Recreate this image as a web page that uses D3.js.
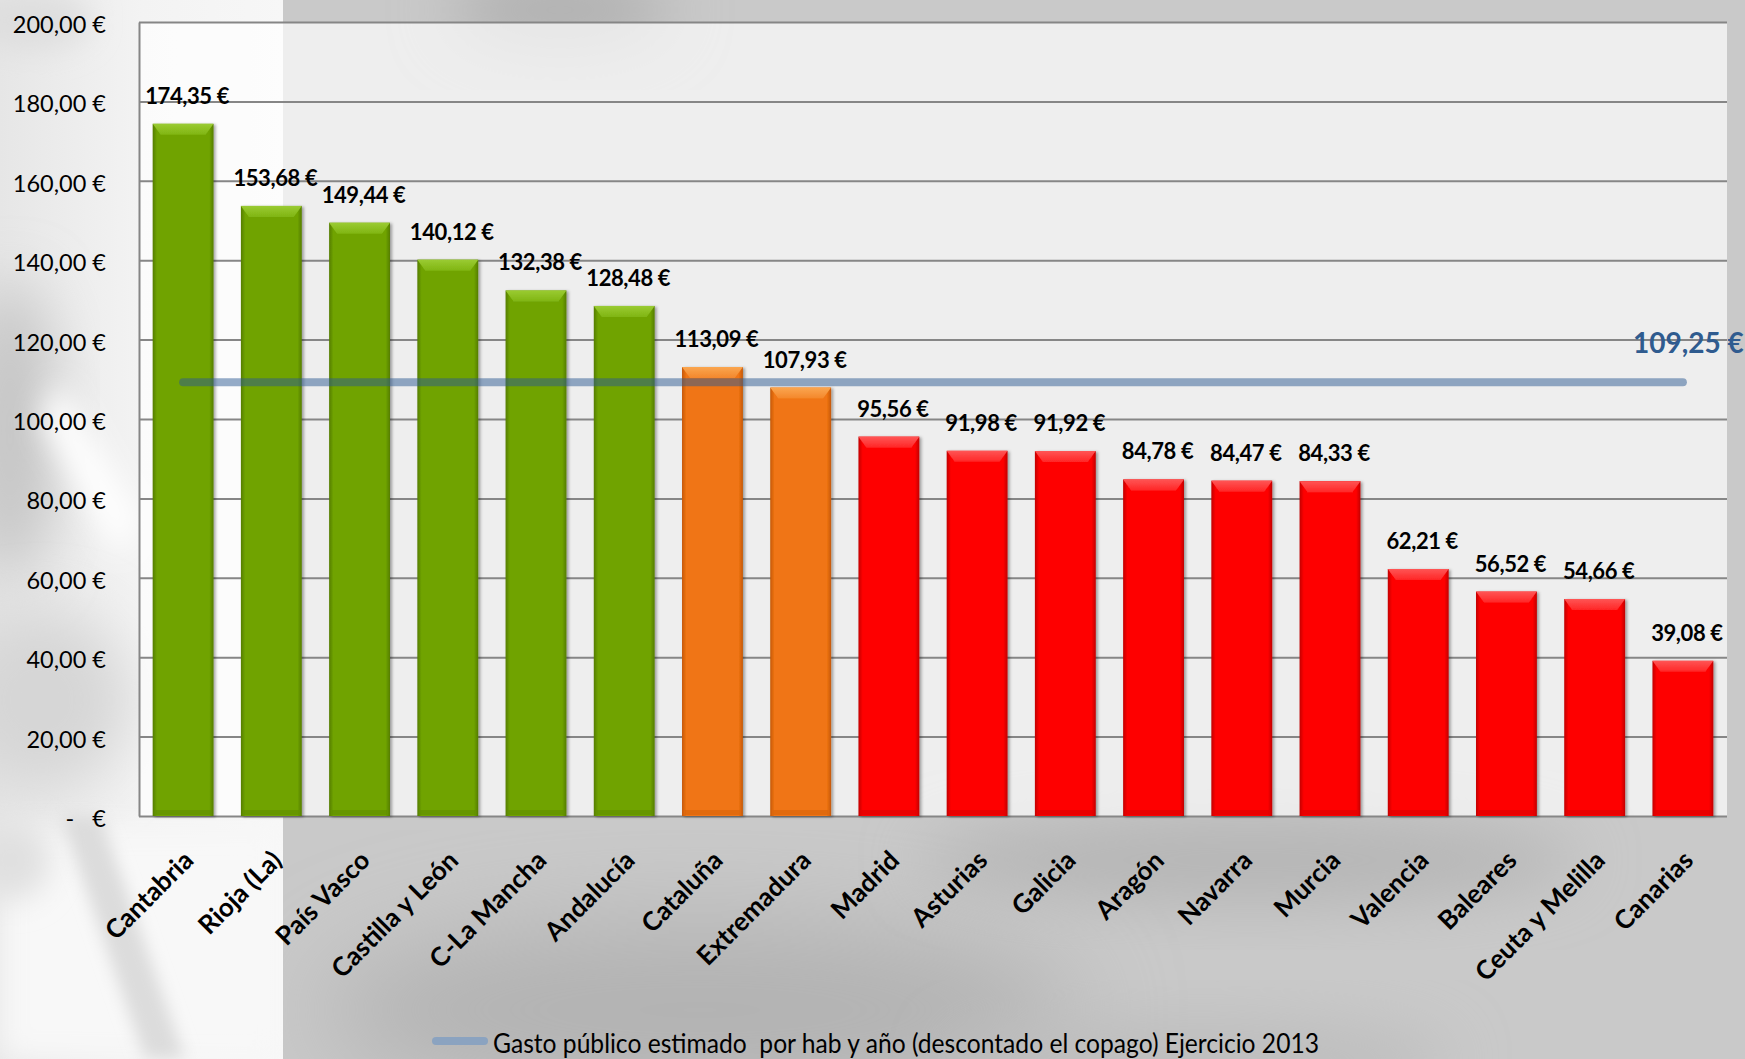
<!DOCTYPE html>
<html><head><meta charset="utf-8">
<script src="https://cdn.jsdelivr.net/npm/d3@7"></script>
<style>
html,body{margin:0;padding:0;background:#c9c9c9;overflow:hidden}
svg{display:block}
text{font-family:Lato,"Open Sans",sans-serif}
</style></head><body>
<svg id="c" width="1745" height="1059"></svg>
<script>
// ---------- DATA ----------
const categories = ["Cantabria","Rioja (La)","País Vasco","Castilla y León","C-La Mancha","Andalucía","Cataluña","Extremadura","Madrid","Asturias","Galicia","Aragón","Navarra","Murcia","Valencia","Baleares","Ceuta y Melilla","Canarias"];
const values = [174.35,153.68,149.44,140.12,132.38,128.48,113.09,107.93,95.56,91.98,91.92,84.78,84.47,84.33,62.21,56.52,54.66,39.08];
const groups = ["verde","verde","verde","verde","verde","verde","naranja","naranja","rojo","rojo","rojo","rojo","rojo","rojo","rojo","rojo","rojo","rojo"];
const meanValue = 109.25;
const yTicks = [0,20,40,60,80,100,120,140,160,180,200];
const yTickLabels = ["-   €","20,00 €","40,00 €","60,00 €","80,00 €","100,00 €","120,00 €","140,00 €","160,00 €","180,00 €","200,00 €"];
const legendLabel = "Gasto público estimado  por hab y año (descontado el copago) Ejercicio 2013";

// ---------- SETUP ----------
const W = 1745, H = 1059;
const L = 139, R = 1727, T = 22, B = 816;
const svg = d3.select("#c");
const defs = svg.append("defs");
const loc = d3.formatLocale({decimal:",",thousands:".",grouping:[3],currency:["",""]});
const fmt = v => loc.format(",.2f")(v) + " €";

const pal = {
  verde:  {main:"#6fa302", dark:"#557d00", light:"#9acb32", light2:"#80b513"},
  naranja:{main:"#f07412", dark:"#c55806", light:"#faa650", light2:"#f4872b"},
  rojo:   {main:"#fe0202", dark:"#c20000", light:"#ff5555", light2:"#ff2626"}
};
Object.entries(pal).forEach(([k,c])=>{
  const g = defs.append("linearGradient").attr("id","side-"+k).attr("x1","0").attr("x2","1").attr("y1","0").attr("y2","0");
  [[0,c.dark],[0.07,c.main],[0.93,c.main],[1,c.dark]].forEach(([o,col])=>g.append("stop").attr("offset",o).attr("stop-color",col));
  const t = defs.append("linearGradient").attr("id","top-"+k).attr("x1","0").attr("x2","0").attr("y1","0").attr("y2","1");
  [[0,c.light],[1,c.light2]].forEach(([o,col])=>t.append("stop").attr("offset",o).attr("stop-color",col));
});
const blur = (id,sd)=>defs.append("filter").attr("id",id).attr("x","-50%").attr("y","-50%").attr("width","200%").attr("height","200%")
  .append("feGaussianBlur").attr("stdDeviation",sd);
blur("b30",30); blur("b15",15); blur("b50",50); blur("b8",8);
const sh = defs.append("filter").attr("id","shadow").attr("x","-20%").attr("y","-20%").attr("width","140%").attr("height","140%");
sh.append("feDropShadow").attr("dx",2).attr("dy",1).attr("stdDeviation",1.5).attr("flood-color","#000").attr("flood-opacity",0.35);

// ---------- BACKGROUND ----------
const bg = svg.append("g");
bg.append("rect").attr("width",W).attr("height",H).attr("fill","#c9c9c9");
bg.append("ellipse").attr("cx",560).attr("cy",10).attr("rx",110).attr("ry",40).attr("fill","#b0b0b0").attr("filter","url(#b30)");
bg.append("ellipse").attr("cx",700).attr("cy",1010).attr("rx",380).attr("ry",90).attr("fill","#b2b2b2").attr("filter","url(#b50)");
bg.append("ellipse").attr("cx",1250).attr("cy",860).attr("rx",330).attr("ry",45).attr("fill","#b6b6b6").attr("filter","url(#b30)");
bg.append("ellipse").attr("cx",1200).attr("cy",1060).attr("rx",250).attr("ry",40).attr("fill","#bdbdbd").attr("filter","url(#b30)");
const lp = defs.append("clipPath").attr("id","leftclip");
lp.append("rect").attr("x",0).attr("y",0).attr("width",283).attr("height",H);
const lg = defs.append("linearGradient").attr("id","leftgrad").attr("x1","0").attr("x2","1").attr("y1","0").attr("y2","0");
[[0,"#e6e6e6"],[0.5,"#f3f3f3"],[1,"#f7f7f7"]].forEach(([o,c])=>lg.append("stop").attr("offset",o).attr("stop-color",c));
const left = svg.append("g").attr("clip-path","url(#leftclip)");
left.append("rect").attr("width",283).attr("height",H).attr("fill","url(#leftgrad)");
left.append("ellipse").attr("cx",10).attr("cy",430).attr("rx",45).attr("ry",150).attr("fill","#c4c4c4").attr("filter","url(#b30)");
left.append("ellipse").attr("cx",40).attr("cy",700).attr("rx",90).attr("ry",90).attr("fill","#d6d6d6").attr("filter","url(#b30)");
left.append("path").attr("d","M60,380 L140,520 L120,560 L40,420 Z").attr("fill","#ffffff").attr("filter","url(#b15)");
left.append("rect").attr("x",0).attr("y",830).attr("width",283).attr("height",230).attr("fill","#f8f8f8").attr("filter","url(#b15)");
left.append("path").attr("d","M60,815 L100,815 L185,1059 L145,1059 Z").attr("fill","#dcdcdc").attr("filter","url(#b8)");
left.append("ellipse").attr("cx",10).attr("cy",860).attr("rx",40).attr("ry",40).attr("fill","#e0e0e0").attr("filter","url(#b15)");
left.append("ellipse").attr("cx",30).attr("cy",20).attr("rx",60).attr("ry",30).attr("fill","#dedede").attr("filter","url(#b15)");

// ---------- SCALES ----------
const x = d3.scaleBand().domain(categories).range([L,R]).paddingInner(0.31).paddingOuter(0.155);
const y = d3.scaleLinear().domain([0,200]).range([B,T]);

svg.append("rect").attr("x",L).attr("y",T).attr("width",R-L).attr("height",B-T).attr("fill","#ffffff").attr("fill-opacity",0.68);

const yAxis = svg.append("g").attr("transform",`translate(${L},0)`)
  .call(d3.axisLeft(y).tickValues(yTicks).tickSize(-(R-L)).tickSizeOuter(0).tickPadding(33)
    .tickFormat((d,i)=>yTickLabels[i]));
yAxis.select(".domain").attr("stroke","#868686").attr("stroke-width",2);
yAxis.selectAll(".tick line").attr("stroke","#868686").attr("stroke-width",2);
yAxis.selectAll(".tick text").attr("fill","#000").attr("font-size",23.5).attr("dy","0.45em")
  .style("white-space","pre").attr("font-family","Lato");

const xAxis = svg.append("g").attr("transform",`translate(0,${B})`)
  .call(d3.axisBottom(x).tickSize(0).tickSizeOuter(0));
xAxis.select(".domain").remove();
xAxis.selectAll(".tick text").attr("fill","#000").attr("font-size",26).attr("font-weight","bold").attr("font-family","Lato")
  .attr("text-anchor","end").attr("x",12).attr("y",46).attr("dy",0).attr("transform","rotate(-45,12,46)");

// ---------- BARS ----------
const data = categories.map((c,i)=>({c, v:values[i], g:groups[i]}));
const bw = x.bandwidth();
const bars = svg.append("g").selectAll("g").data(data).join("g").attr("filter","url(#shadow)");
bars.append("rect").attr("x",d=>x(d.c)).attr("y",d=>y(d.v)).attr("width",bw).attr("height",d=>B-y(d.v))
  .attr("fill",d=>`url(#side-${d.g})`);
bars.append("path").attr("d",d=>{
  const x0=x(d.c), y0=y(d.v), b=8, h=11;
  return `M${x0},${y0} L${x0+bw},${y0} L${x0+bw-b},${y0+h} L${x0+b},${y0+h} Z`;
}).attr("fill",d=>`url(#top-${d.g})`);
bars.append("rect").attr("x",d=>x(d.c)+3).attr("y",d=>B-6).attr("width",bw-6).attr("height",5)
  .attr("fill",d=>pal[d.g].dark).attr("opacity",0.35);

svg.append("g").selectAll("text").data(data).join("text")
  .attr("x",d=>x(d.c)+bw/2+4).attr("y",d=>y(d.v)-20)
  .attr("text-anchor","middle").attr("font-size",22).attr("font-weight","bold").attr("fill","#000")
  .attr("letter-spacing",-0.4)
  .text(d=>fmt(d.v));

// ---------- MEAN LINE ----------
const x1 = x(categories[0])+bw/2, x2 = x(categories[categories.length-1])+bw/2;
svg.append("line").attr("x1",x1).attr("x2",x2).attr("y1",y(meanValue)).attr("y2",y(meanValue))
  .attr("stroke","#2c5a92").attr("stroke-opacity",0.5).attr("stroke-width",8).attr("stroke-linecap","round");
svg.append("text").attr("x",1633).attr("y",y(meanValue)-29).attr("font-size",28).attr("font-weight","bold")
  .attr("fill","#2f5b8f").text(fmt(meanValue));

// ---------- LEGEND ----------
svg.append("line").attr("x1",436).attr("x2",484).attr("y1",1041).attr("y2",1041)
  .attr("stroke","#8ba3c0").attr("stroke-width",8).attr("stroke-linecap","round");
svg.append("text").attr("x",493).attr("y",1053).attr("font-size",26).attr("fill","#000")
  .attr("textLength",826).attr("lengthAdjust","spacingAndGlyphs").style("white-space","pre")
  .text(legendLabel);
</script>
</body></html>
